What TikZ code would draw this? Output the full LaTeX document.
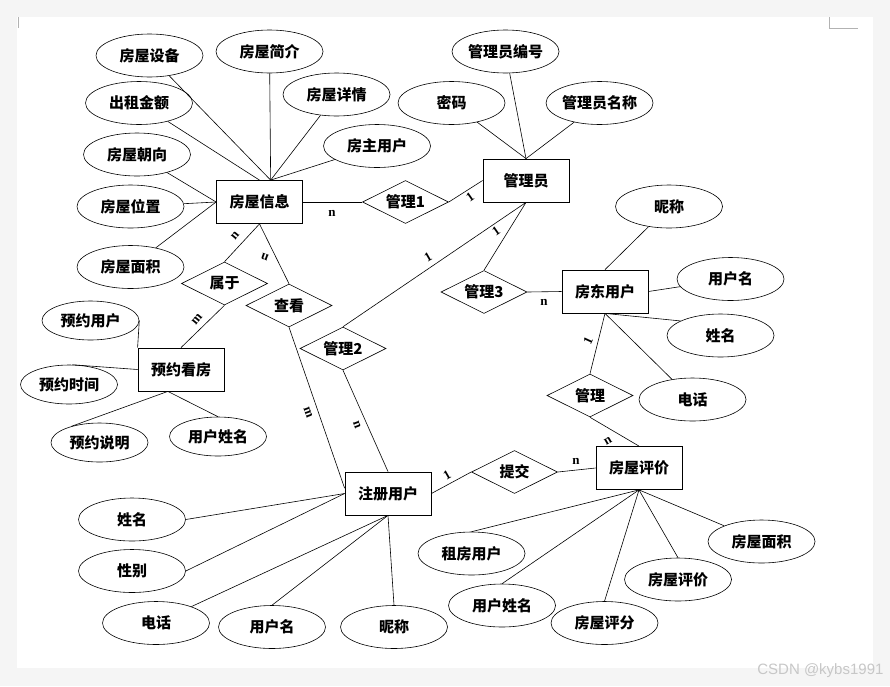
\documentclass[tikz,border=0pt]{standalone}
\usepackage{fontspec}
\setmainfont{Noto Sans CJK SC}
\newfontfamily\cardfont{Liberation Serif}
\newfontfamily\markfont{Liberation Sans}
\usetikzlibrary{shapes.geometric}
\tikzset{
  shiti/.style={draw,rectangle,line width=0.8pt,minimum width=86pt,minimum height=43pt,inner sep=0pt},
  lianxi/.style={draw,diamond,aspect=2,line width=0.6pt,minimum width=86pt,minimum height=43pt,inner sep=0pt},
  shuxing/.style={draw,ellipse,line width=0.6pt,minimum width=107pt,minimum height=43pt,inner sep=0pt},
  xiao/.style={shuxing,minimum width=97pt,minimum height=39pt},
  jishu/.style={inner sep=0pt,font=\cardfont\bfseries\fontsize{13}{13}\selectfont},
  lian/.style={line width=0.6pt}
}

\begin{document}
\begin{tikzpicture}[x=1pt,y=-1pt,font=\fontsize{15}{16}\selectfont\bfseries]
\useasboundingbox (0,0) rectangle (890,686);
\fill[black!4] (0,0) rectangle (890,686);
\fill[white] (17,17) rectangle (873,668);
\draw[gray!60,line width=0.5pt] (18,17) -- (18,28);
\draw[gray!60,line width=0.5pt] (829,17) -- (829,28) -- (858,28);

% entities
\node[shiti] (info) at (259.5,202) {房屋信息};
\node[shiti] (mgr) at (526,180.5) {管理员};
\node[shiti] (land) at (605,291.5) {房东用户};
\node[shiti] (book) at (181,369.5) {预约看房};
\node[shiti] (reg) at (388,493.5) {注册用户};
\node[shiti] (eval) at (639,468) {房屋评价};

% relations
\node[lianxi] (r1) at (405.5,202) {管理1};
\node[lianxi] (belong) at (224.5,283.5) {属于};
\node[lianxi] (look) at (289,305.5) {查看};
\node[lianxi] (r2) at (343,348.5) {管理2};
\node[lianxi] (r3) at (484,292) {管理3};
\node[lianxi] (r4) at (590,395.5) {管理};
\node[lianxi] (submit) at (514.5,472) {提交};

% attributes of 房屋信息
\node[shuxing] (equip) at (149.5,55.5) {房屋设备};
\node[shuxing] (intro) at (269.5,51.5) {房屋简介};
\node[shuxing] (rent) at (139,103) {出租金额};
\node[shuxing] (detail) at (336.5,94.5) {房屋详情};
\node[shuxing] (orient) at (137,154.5) {房屋朝向};
\node[shuxing] (owner) at (377,146) {房主用户};
\node[shuxing] (place) at (130.5,206.5) {房屋位置};
\node[shuxing] (area) at (130.5,267) {房屋面积};
\draw[lian] (equip) -- (info.63);
\draw[lian] (intro) -- (info.63);
\draw[lian] (detail) -- (info.63);
\draw[lian] (owner) -- (info.63);
\draw[lian] (rent) -- (info.north);
\draw[lian] (orient) -- (info.west);
\draw[lian] (place) -- (info.west);
\draw[lian] (area) -- (info.west);

% attributes of 管理员
\node[shuxing] (mno) at (505.5,51.5) {管理员编号};
\node[shuxing] (pwd) at (451.5,103) {密码};
\node[shuxing] (mname) at (599.5,103) {管理员名称};
\draw[lian] (mno) -- (mgr.north);
\draw[lian] (pwd) -- (mgr.north);
\draw[lian] (mname) -- (mgr.north);

% attributes of 房东用户
\node[shuxing] (lnick) at (669,206.5) {昵称};
\node[shuxing] (luser) at (730.5,279) {用户名};
\node[shuxing] (lname) at (720.5,335.5) {姓名};
\node[shuxing] (ltel) at (692.5,399.5) {电话};
\draw[lian] (lnick) -- (land.north);
\draw[lian] (luser) -- (land.east);
\draw[lian] (lname.160) -- (land.south);
\draw[lian] (ltel) -- (land.south);

% attributes of 预约看房
\node[xiao] (buser) at (90.5,320.5) {预约用户};
\node[xiao] (btime) at (69,384.5) {预约时间};
\node[xiao] (bnote) at (99.5,442.5) {预约说明};
\node[xiao] (bname) at (218,436.5) {用户姓名};
\draw[lian] (buser.east) -- (book.north west);
\draw[lian] (btime.80) -- (book.west);
\draw[lian] (bnote.150) -- (book.-121);
\draw[lian] (bname.north) -- (book.-121);

% attributes of 注册用户
\node[shuxing] (rname) at (132,519.5) {姓名};
\node[shuxing] (rsex) at (132,571) {性别};
\node[shuxing] (rtel) at (156,623) {电话};
\node[shuxing] (ruser) at (272,627) {用户名};
\node[shuxing] (rnick) at (394,627) {昵称};
\draw[lian] (rname.east) -- (reg.west);
\draw[lian] (rsex.east) -- (reg.west);
\draw[lian] (rtel) -- (reg.south);
\draw[lian] (ruser.north) -- (reg.south);
\draw[lian] (rnick.north) -- (reg.south);

% attributes of 房屋评价
\node[shuxing] (erent) at (471.5,553.5) {租房用户};
\node[shuxing] (ename) at (502,605.5) {用户姓名};
\node[shuxing] (escore) at (604.5,623) {房屋评分};
\node[shuxing] (etext) at (678,579.5) {房屋评价};
\node[shuxing] (earea) at (761.5,541.5) {房屋面积};
\draw[lian] (erent.north) -- (eval.south);
\draw[lian] (ename.north) -- (eval.south);
\draw[lian] (escore.north) -- (eval.south);
\draw[lian] (etext.north) -- (eval.south);
\draw[lian] (earea) -- (eval.south);

% relation lines
\draw[lian] (info.east) -- (r1.west);
\draw[lian] (r1.east) -- (mgr.west);
\draw[lian] (info.south) -- (belong.north);
\draw[lian] (belong.south) -- (book.north);
\draw[lian] (info.south) -- (look.north);
\draw[lian] (look.south) -- (reg.173);
\draw[lian] (r2.north) -- (mgr.south);
\draw[lian] (r2.south) -- (reg.north);
\draw[lian] (mgr.south) -- (r3.north);
\draw[lian] (r3.east) -- (land.west);
\draw[lian] (land.south) -- (r4.north);
\draw[lian] (r4.south) -- (eval.north);
\draw[lian] (reg.east) -- (submit.west);
\draw[lian] (submit.east) -- (eval.west);

% cardinalities
\node[jishu] (k1) at (332,213) {n};
\node[jishu,rotate=35] (k2) at (470,197) {1};
\node[jishu,rotate=50] (k3) at (235,236) {n};
\node[jishu,rotate=50] (k4) at (197,319) {m};
\node[jishu,rotate=160] (k5) at (265,257) {n};
\node[jishu,rotate=-70] (k6) at (308,413) {m};
\node[jishu,rotate=30] (k7) at (428,257) {1};
\node[jishu,rotate=-70] (k8) at (357,425) {n};
\node[jishu,rotate=35] (k9) at (496,231) {1};
\node[jishu] (k10) at (544,302) {n};
\node[jishu,rotate=65] (k11) at (588,341) {1};
\node[jishu,rotate=30] (k12) at (608,441) {n};
\node[jishu,rotate=30] (k13) at (447,475) {1};
\node[jishu] (k14) at (576,461) {n};

% watermark
\node[font=\markfont\fontsize{15}{15}\selectfont,text=black!22,anchor=east] (wm) at (887,671) {CSDN @kybs1991};
\end{tikzpicture}
\end{document}
